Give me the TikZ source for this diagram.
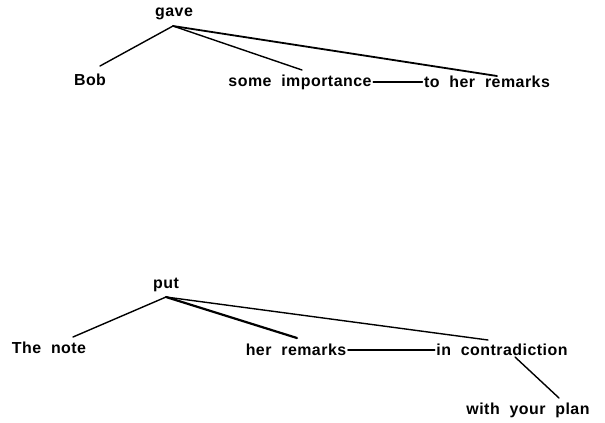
\documentclass[tikz,border=0pt]{standalone}
\usepackage{fontspec}
\setmainfont{Liberation Sans}[LetterSpace=3,WordSpace=2]
\usetikzlibrary{positioning}

\begin{document}
\begin{tikzpicture}[x=1bp,y=-1bp,
  word/.style={inner sep=1.5pt,font=\fontsize{16}{18}\selectfont\bfseries},
  branch/.style={line width=1.4bp,line cap=round}]
\useasboundingbox (0,0) rectangle (605,422);
% first tree
\node[word] (gave) at (174,14) {gave};
\node[word] (bob) at (90,80) {Bob};
\node[word] (importance) at (300,82) {some importance};
\node[word] (toremarks) at (487,82) {to her remarks};
\coordinate (gtop) at (173,26);
\coordinate (bobend) at (100,66);
\coordinate (impend) at (302,70);
\coordinate (remend) at (497,76);
\draw[branch] (gtop)--(bobend);
\draw[branch] (gtop)--(impend);
\draw[branch,line width=1.8bp] (gtop)--(remend);
\draw[branch] (importance.east)--(toremarks.west);
% second tree
\node[word] (put) at (166,285) {put};
\node[word] (note) at (49,348) {The note};
\node[word] (remarks) at (296,350) {her remarks};
\node[word] (contra) at (502,350) {in contradiction};
\node[word] (plan) at (528,410) {with your plan};
\coordinate (ptop) at (166,297);
\coordinate (noteend) at (73,337);
\coordinate (herend) at (297,338);
\coordinate (conend) at (488,340);
\coordinate (splitpt) at (515,357);
\coordinate (planend) at (559,398);
\draw[branch] (ptop)--(noteend);
\draw[branch,line width=2.2bp] (ptop)--(herend);
\draw[branch] (ptop)--(conend);
\draw[branch] (remarks.east)--(contra.west);
\draw[branch] (splitpt)--(planend);
\end{tikzpicture}
\end{document}
